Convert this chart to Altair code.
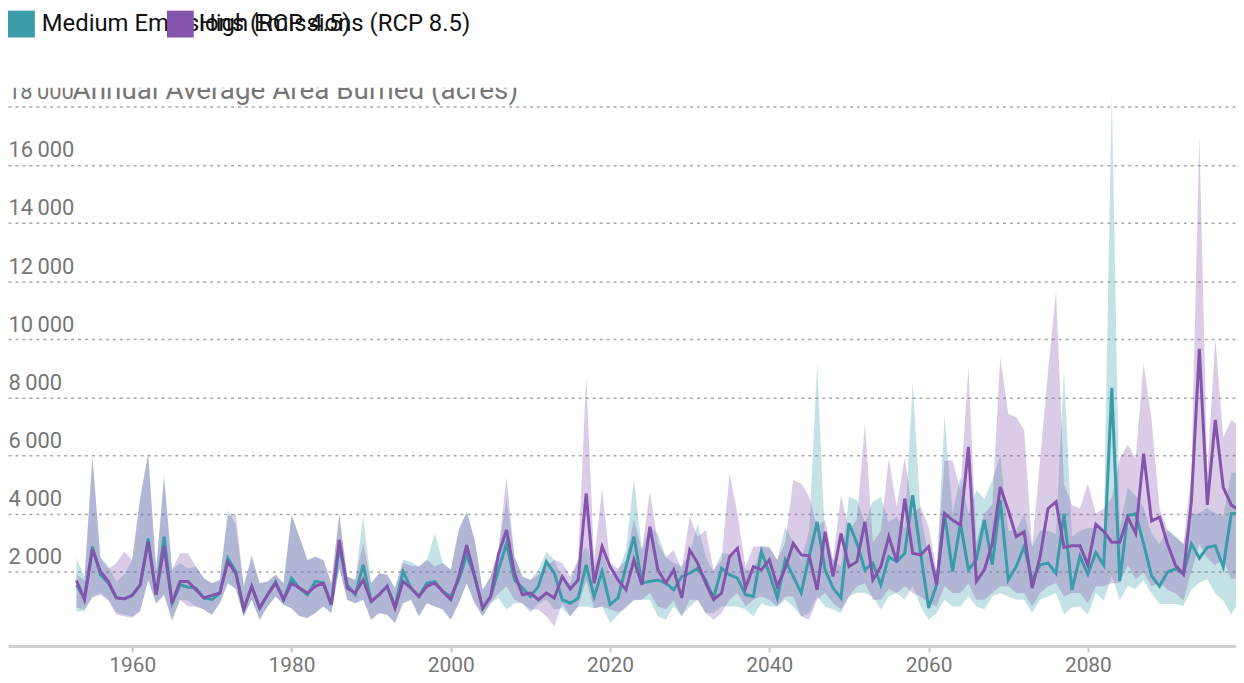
import altair as alt
import pandas as pd

YEARS = list(range(1953, 2100))
SERIES = ["Medium Emissions (RCP 4.5)", "High Emissions (RCP 8.5)"]
COLORS = ["#3a9ca8", "#8453ab"]
Y_TICKS = [2000, 4000, 6000, 8000, 10000, 12000, 14000, 16000, 18000]
X_TICKS = [1960, 1980, 2000, 2020, 2040, 2060, 2080]
Y_TITLE = "Annual Average Area Burned (acres)"

med_mean = [
    1540, 1085, 2860, 1890, 1600, 1100, 1060, 1180, 1540, 3140,
    1200, 3200, 910, 1540, 1460, 1430, 1090, 1030, 1260, 2460,
    2000, 700, 1490, 740, 1200, 1650, 1030, 1770, 1430, 1200,
    1660, 1600, 860, 2860, 1540, 1200, 2230, 970, 1200, 1490,
    800, 2000, 1430, 1140, 1600, 1650, 1310, 1140, 1710, 2570,
    1830, 740, 1140, 2060, 2970, 1710, 1430, 1140, 1490, 2340,
    1940, 1030, 910, 1090, 2230, 1140, 2000, 860, 1090, 2170,
    3200, 1600, 1660, 1710, 1600, 1370, 1830, 1940, 2110, 1710,
    1090, 2110, 1890, 1770, 1200, 1140, 2690, 1940, 1090, 2400,
    1830, 1260, 2510, 3710, 2060, 1430, 1090, 3660, 2970, 2060,
    2290, 1540, 2510, 2340, 2630, 4630, 2630, 740, 1540, 4000,
    2000, 3660, 2060, 2400, 3770, 2230, 4460, 1710, 2170, 2860,
    1710, 2230, 2290, 1940, 3990, 1370, 2520, 1910, 2650, 2220,
    8320, 1670, 3930, 3990, 2950, 1850, 1490, 1980, 2100, 1910,
    2950, 2460, 2830, 2890, 2160, 3990, 4000,
]
med_hi = [
    2460, 1830, 5900, 2510, 2170, 1660, 1900, 2400, 4500, 6000,
    2060, 5370, 2060, 2290, 2100, 2170, 1770, 1600, 1710, 4110,
    3600, 1490, 2570, 1600, 1660, 1890, 1600, 3940, 3200, 2400,
    2510, 2400, 1600, 3900, 1830, 1710, 3890, 1600, 1940, 1890,
    1430, 2400, 2340, 2170, 2400, 3310, 2290, 2060, 3430, 4060,
    3090, 1370, 1830, 2700, 4500, 2510, 1830, 1710, 2060, 2690,
    2400, 1700, 1600, 2400, 2860, 2170, 2700, 1900, 2000, 2740,
    5200, 2740, 3540, 3310, 2500, 2290, 2200, 2600, 3650, 2500,
    2000, 2630, 2600, 2630, 2060, 2060, 2860, 2800, 2400, 3540,
    3000, 2400, 3400, 9140, 3000, 2400, 2170, 4570, 4460, 3700,
    4400, 4570, 3700, 3890, 3500, 8510, 4000, 2500, 2000, 7370,
    4000, 5260, 4000, 4800, 4500, 5140, 6000, 3400, 3400, 4000,
    2860, 3400, 3400, 3300, 8930, 3200, 3400, 3500, 3500, 3400,
    18500, 3500, 4900, 4600, 4200, 3300, 2950, 3440, 3200, 2950,
    4000, 4000, 4200, 4000, 3900, 5400, 5400,
]
med_lo = [
    630, 630, 1140, 1260, 1030, 600, 520, 450, 650, 1710,
    900, 1200, 350, 1030, 1000, 800, 690, 510, 910, 1600,
    1400, 460, 1030, 340, 800, 1140, 860, 740, 460, 400,
    570, 800, 570, 2100, 1030, 910, 1030, 340, 570, 510,
    230, 910, 1030, 460, 910, 800, 690, 340, 910, 1600,
    910, 460, 910, 1100, 690, 910, 910, 570, 910, 1030,
    690, 740, 460, 800, 800, 740, 800, 230, 500, 800,
    1000, 1030, 1030, 460, 340, 800, 460, 800, 1030, 570,
    570, 800, 800, 800, 690, 460, 910, 800, 800, 1030,
    800, 460, 570, 1140, 800, 690, 570, 1140, 1260, 1260,
    1140, 690, 1140, 1260, 1030, 1490, 800, 340, 570, 1030,
    800, 800, 1140, 800, 690, 1140, 1260, 1140, 1030, 1030,
    570, 1030, 1140, 1260, 520, 760, 800, 510, 1260, 1000,
    1850, 1000, 1500, 1400, 1700, 1240, 880, 880, 880, 820,
    1370, 1610, 1730, 1240, 1000, 510, 1000,
]

high_mean = [
    1690, 1030, 2770, 2000, 1660, 1090, 1060, 1180, 1540, 3030,
    1200, 2860, 910, 1660, 1660, 1370, 1090, 1180, 1260, 2340,
    1940, 700, 1490, 740, 1200, 1600, 1030, 1600, 1430, 1260,
    1490, 1600, 860, 3090, 1430, 1260, 1710, 970, 1200, 1490,
    740, 1660, 1430, 1140, 1490, 1600, 1310, 1030, 1830, 2910,
    1830, 740, 1140, 2600, 3430, 1940, 1200, 1260, 1030, 1260,
    1085, 1830, 1400, 1710, 4690, 1600, 2860, 2170, 1710, 1370,
    2400, 1540, 3540, 2060, 1600, 2060, 1090, 2740, 2290, 1600,
    1030, 1260, 2510, 2800, 1430, 2170, 2060, 2400, 1490, 2110,
    2970, 2570, 2540, 1370, 3370, 1830, 3310, 2170, 2340, 3710,
    1710, 2170, 3200, 2340, 4510, 2630, 2570, 2860, 1540, 4000,
    3770, 3600, 6290, 1660, 2060, 2970, 4910, 4110, 3200, 3370,
    1430, 2510, 4170, 4400, 2830, 2890, 2890, 2220, 3620, 3380,
    3010, 3010, 3870, 3320, 6060, 3740, 3870, 2950, 2220, 1910,
    4420, 9660, 4290, 7220, 4900, 4290, 4100,
]
high_hi = [
    1900, 1700, 6000, 2450, 2100, 2290, 2690, 2400, 4570, 6100,
    2060, 5200, 2060, 2630, 2630, 2170, 1770, 1600, 1710, 3900,
    4000, 1490, 2500, 1600, 1660, 1890, 1600, 3940, 3200, 2400,
    2510, 2400, 1600, 4000, 1830, 1710, 2970, 1600, 1940, 1890,
    1430, 2290, 2200, 2170, 2400, 2170, 2290, 2060, 3430, 4060,
    3090, 1370, 1830, 2800, 5260, 2510, 1830, 1710, 1900, 2170,
    2400, 2290, 1830, 2400, 8740, 2400, 4860, 2290, 2100, 2400,
    3800, 2740, 4740, 3000, 2500, 2740, 2060, 3890, 3200, 3430,
    2060, 2400, 5370, 4000, 2170, 2860, 2860, 2860, 2400, 3000,
    5140, 5030, 4570, 3540, 3770, 2400, 4630, 3400, 3800, 7090,
    3000, 3400, 5890, 4230, 5940, 4000, 4230, 3540, 2060, 5800,
    5830, 4800, 9030, 3000, 4000, 4300, 9370, 7430, 7310, 6860,
    2860, 5830, 8910, 11660, 5000, 4290, 4170, 5030, 4000, 4170,
    4540, 5880, 6370, 5880, 9170, 7220, 4170, 3440, 3200, 2950,
    5390, 17000, 5390, 10030, 6610, 7220, 7000,
]
high_lo = [
    750, 700, 1100, 1200, 1000, 510, 460, 400, 630, 1700,
    900, 1200, 290, 1030, 800, 800, 690, 510, 910, 1600,
    1400, 460, 1030, 340, 800, 1140, 860, 740, 460, 400,
    570, 800, 570, 2100, 1030, 910, 1030, 340, 570, 510,
    230, 910, 1030, 460, 910, 800, 690, 340, 910, 1600,
    910, 460, 910, 1250, 1490, 1030, 910, 690, 690, 460,
    110, 910, 460, 800, 1710, 740, 800, 700, 600, 740,
    1030, 1030, 1260, 800, 700, 1000, 460, 1030, 1030, 570,
    340, 570, 1030, 1260, 800, 1030, 1140, 1030, 800, 1140,
    1140, 460, 340, 1030, 1260, 910, 690, 1140, 1490, 1600,
    1030, 1030, 1400, 1260, 1490, 1260, 1140, 910, 800, 1500,
    1260, 1260, 1600, 1030, 1030, 1260, 1490, 1490, 1260, 1260,
    800, 1260, 1490, 1600, 1140, 1260, 1260, 910, 1490, 1490,
    1600, 1610, 2220, 1730, 1980, 1490, 1610, 1370, 1240, 1000,
    2000, 2950, 2460, 2220, 2460, 1730, 1800,
]

rows = []
for s, mean, lo, hi in [
    (SERIES[0], med_mean, med_lo, med_hi),
    (SERIES[1], high_mean, high_lo, high_hi),
]:
    for y, m, l, h in zip(YEARS, mean, lo, hi):
        rows.append({"year": y, "series": s, "mean": m, "lo": l, "hi": h})
df = pd.DataFrame(rows)

FONT = "Roboto"
GRAY = "#767676"
THIN = "\u2009"


def label_expr(field):
    return "replace(format(" + field + ", ','), ',', '" + THIN + "')"


x_scale = alt.Scale(domain=[1944.4, 2098.6], nice=False, zero=False)
y_scale = alt.Scale(domain=[-564, 18652], nice=False, zero=False)

x_axis = alt.Axis(
    values=X_TICKS, format="d", grid=False, title=None,
    domainColor="#d0d0d0", domainWidth=3,
    tickColor="#c8c8c8", tickSize=6, tickWidth=2,
    labelFontSize=21, labelColor=GRAY, labelFont=FONT, labelPadding=3,
    labelFlush=False,
)
# top tick label is drawn separately so that it can be clipped like the title
y_axis = alt.Axis(
    values=Y_TICKS, grid=True, gridColor="#a8a8a8", gridDash=[3, 4], gridWidth=1.5,
    domain=False, ticks=False, title=None,
    labelAlign="left", labelBaseline="bottom", labelPadding=0, labelOffset=-3,
    labelFontSize=22, labelColor=GRAY, labelFont=FONT,
    labelExpr="datum.value >= " + str(Y_TICKS[-1]) + " ? '' : " + label_expr("datum.value"),
)

color_scale = alt.Scale(domain=SERIES, range=COLORS)

base = alt.Chart(df)

band = base.mark_area(opacity=0.3, clip=True).encode(
    x=alt.X("year:Q", scale=x_scale, axis=x_axis),
    y=alt.Y("lo:Q", scale=y_scale, axis=y_axis),
    y2="hi:Q",
    color=alt.Color("series:N", scale=color_scale, legend=None),
)

line = base.mark_line(strokeWidth=3, clip=True).encode(
    x=alt.X("year:Q", scale=x_scale),
    y=alt.Y("mean:Q", scale=y_scale),
    color=alt.Color("series:N", scale=color_scale, legend=None),
)

top_df = pd.DataFrame({"v": [Y_TICKS[-1]]})
top_label = alt.Chart(top_df).transform_calculate(
    t=label_expr("datum.v")
).mark_text(
    align="left", baseline="bottom", dy=-3, fontSize=22, font=FONT,
    color=GRAY, clip=True,
).encode(x=alt.value(0), y=alt.Y("v:Q", scale=y_scale), text="t:N")

title_df = pd.DataFrame({"t": [Y_TITLE]})
title = alt.Chart(title_df).mark_text(
    align="left", baseline="alphabetic", fontSize=28, font=FONT,
    color=GRAY, clip=True,
).encode(x=alt.value(65), y=alt.value(11), text="t:N")

# legend (drawn as marks, the two entries overlap as in the original)
LEG_SYM_X = [13.5, 173.5]
LEG_TXT_X = [34, 192]
LEG_Y = -64
legend_layers = []
for name, col, sx, tx in zip(SERIES, COLORS, LEG_SYM_X, LEG_TXT_X):
    ldf = pd.DataFrame({"s": [name]})
    legend_layers.append(
        alt.Chart(ldf).mark_square(size=729, color=col, opacity=1, strokeWidth=0).encode(
            x=alt.value(sx), y=alt.value(LEG_Y)
        )
    )
    legend_layers.append(
        alt.Chart(ldf).mark_text(
            align="left", baseline="middle", fontSize=24, font=FONT, color="#111111"
        ).encode(x=alt.value(tx), y=alt.value(LEG_Y), text="s:N")
    )

chart = alt.layer(band, line, top_label, title, *legend_layers).properties(
    width=1236, height=562, padding=0
).configure_view(stroke=None)

chart.save("out.html", embed_options={"renderer": "svg", "actions": False})
